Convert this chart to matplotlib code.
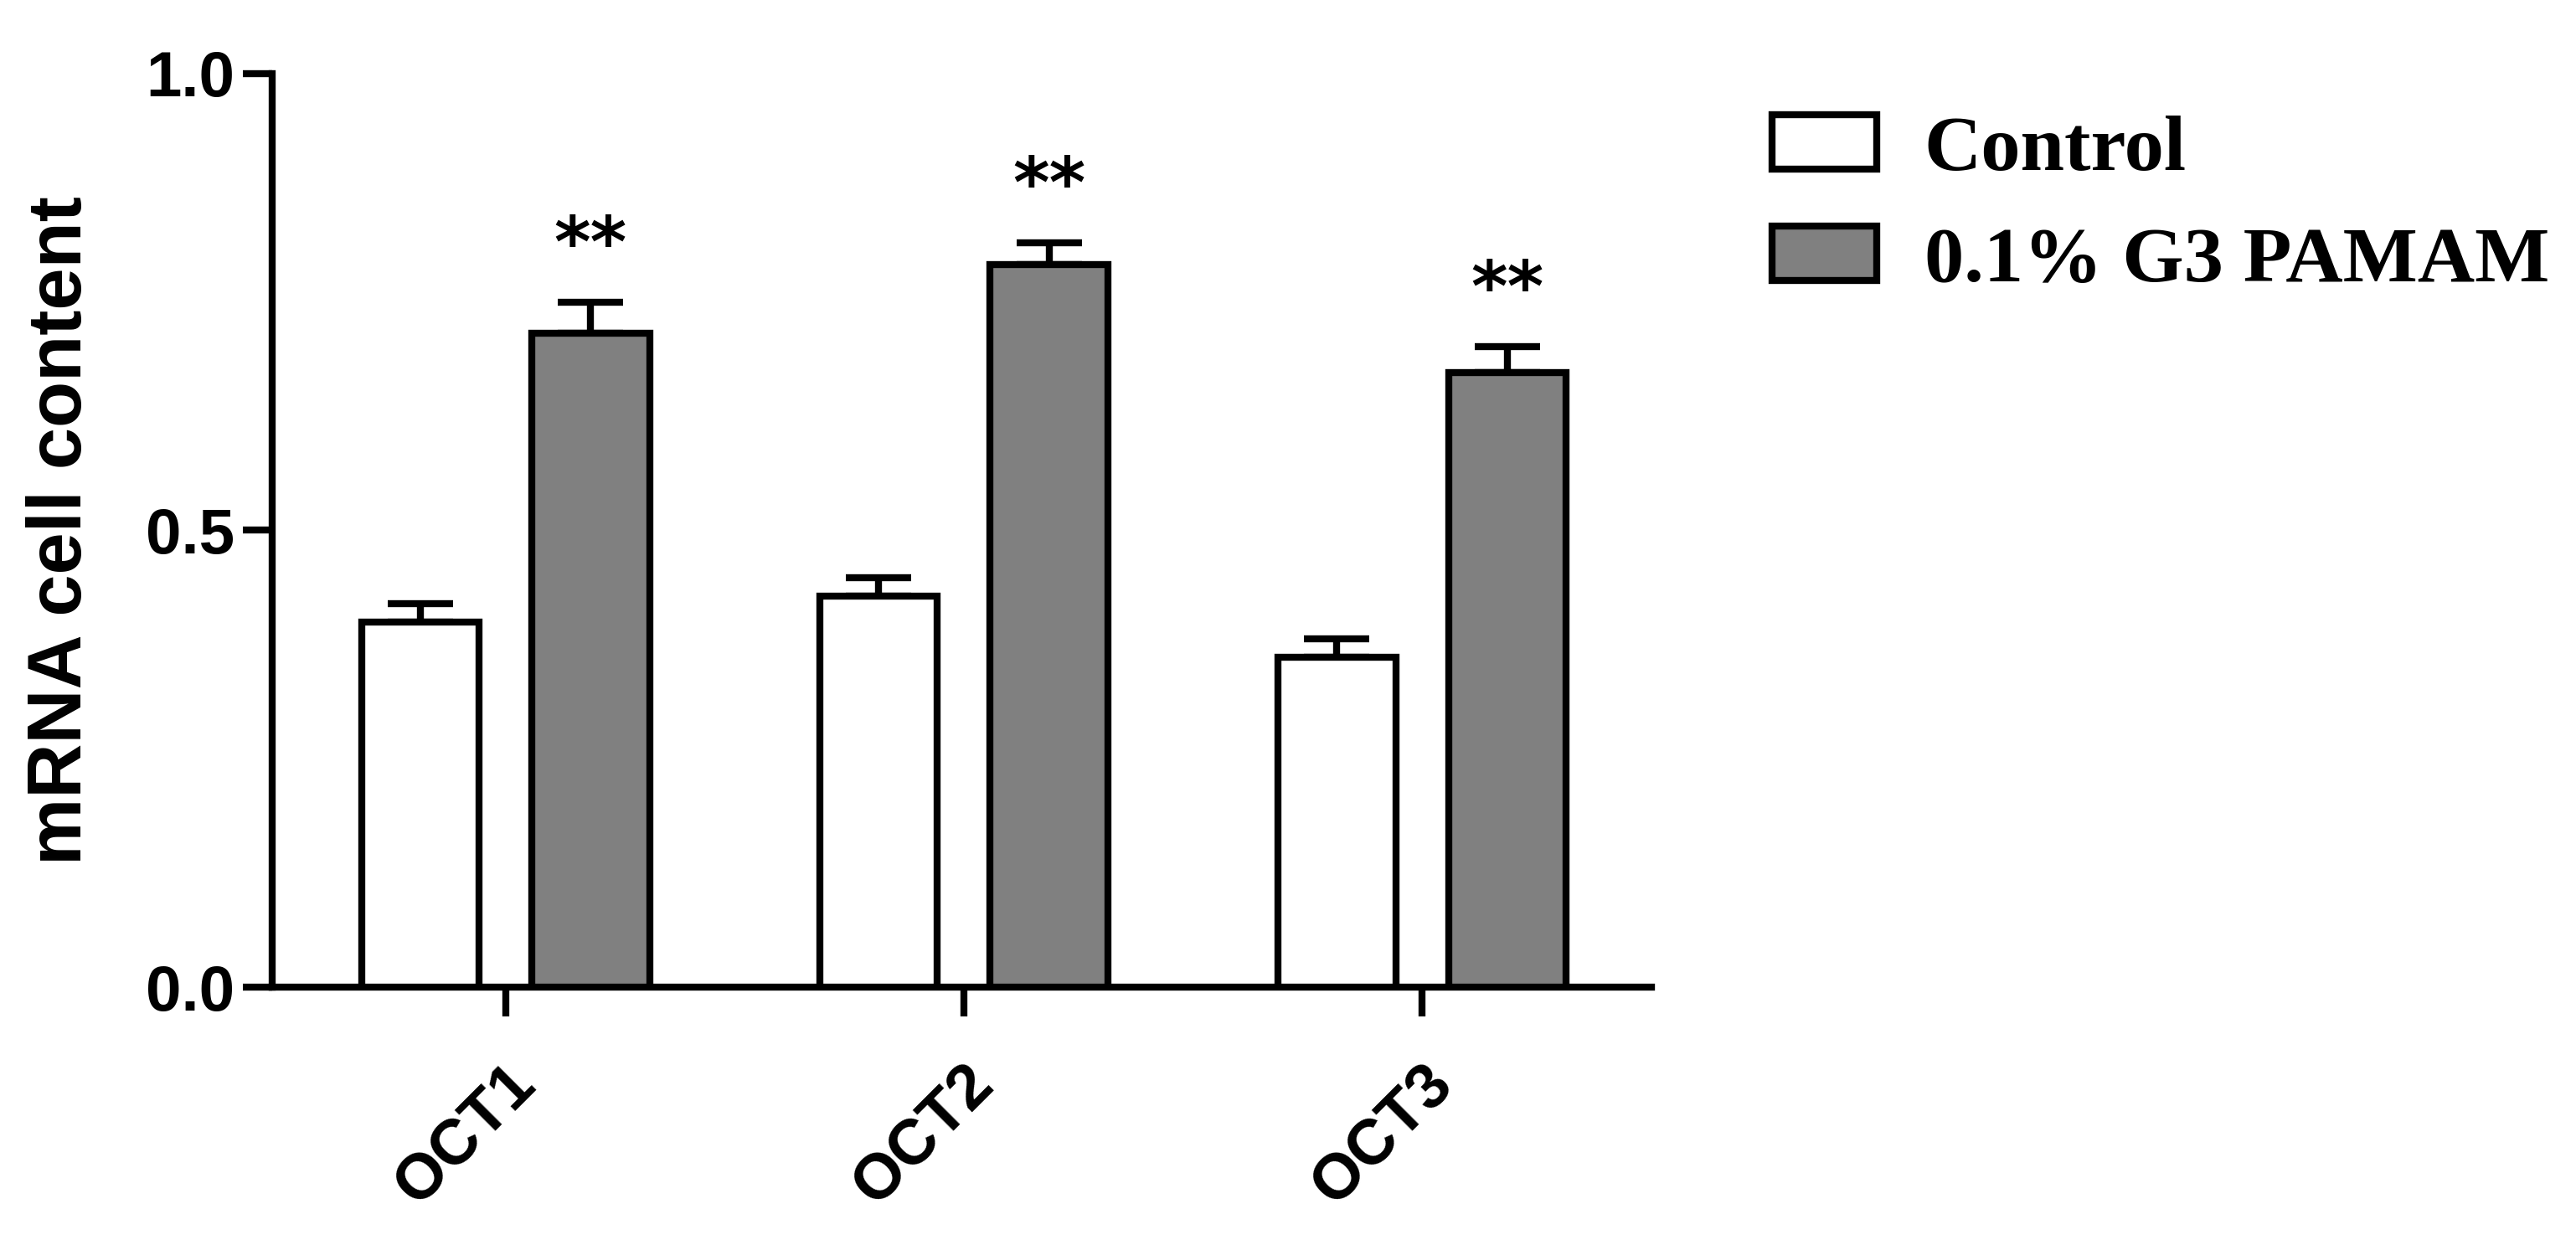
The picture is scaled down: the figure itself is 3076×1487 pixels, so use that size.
import numpy as np
import matplotlib
matplotlib.use("Agg")
import matplotlib.pyplot as plt
import matplotlib.transforms as mtransforms

genes = ["OCT1", "OCT2", "OCT3"]
control = [0.40, 0.428, 0.361]
control_err = [0.02, 0.02, 0.02]
pamam = [0.716, 0.791, 0.673]
pamam_err = [0.034, 0.024, 0.028]
marks = ["**", "**", "**"]
labels = ["Control", "0.1% G3 PAMAM"]

plt.rcParams['font.family'] = ['Liberation Sans', 'DejaVu Sans']

fig = plt.figure(figsize=(30.76, 14.87), dpi=100)
ax = fig.add_axes([0.1055, 0.207, 0.5355, 0.734])

x = np.arange(1, len(genes) + 1)
w = 0.257
off = 0.186
lw = 6.0

b1 = ax.bar(x - off, control, w, color="white", edgecolor="black", linewidth=lw,
            label=labels[0], zorder=3)
b2 = ax.bar(x + off, pamam, w, color="#808080", edgecolor="black", linewidth=lw,
            label=labels[1], zorder=3)
ax.errorbar(x - off, control, yerr=[np.zeros(3), control_err], fmt="none",
            ecolor="black", elinewidth=lw, capsize=28, capthick=lw, zorder=2)
ax.errorbar(x + off, pamam, yerr=[np.zeros(3), pamam_err], fmt="none",
            ecolor="black", elinewidth=lw, capsize=28, capthick=lw, zorder=2)

# significance marks above the treated bars
for xi, v, e, m in zip(x + off, pamam, pamam_err, marks):
    ax.text(xi, v + e + 0.061, m, ha="center", va="center", fontsize=60,
            fontweight="bold", family="DejaVu Sans")

ax.set_xlim(0.49, 3.5)
ax.set_ylim(0, 1.0)
ax.set_yticks([0.0, 0.5, 1.0])
ax.set_yticklabels(["0.0", "0.5", "1.0"], fontsize=55, fontweight="bold")
ax.set_xticks(x)
ax.set_xticklabels(genes, fontsize=55, fontweight="bold", rotation=45,
                   ha="right", va="top", rotation_mode="anchor")
shift = mtransforms.ScaledTranslation(-0.31, 0, fig.dpi_scale_trans)
for lab in ax.get_xticklabels():
    lab.set_transform(lab.get_transform() + shift)
ax.set_ylabel("mRNA cell content", fontsize=65, fontweight="bold", labelpad=42)

ax.spines['top'].set_visible(False)
ax.spines['right'].set_visible(False)
ax.spines['left'].set_linewidth(lw)
ax.spines['bottom'].set_linewidth(lw)
ax.tick_params(axis="both", width=lw, length=25)
ax.tick_params(axis="y", pad=7)
ax.tick_params(axis="x", pad=32)

fig.legend(handles=[b1, b2], labels=labels, loc="upper left",
           bbox_to_anchor=(0.688, 0.908), frameon=False, borderpad=0,
           borderaxespad=0, handlelength=1.32, handleheight=0.69,
           handletextpad=0.6, labelspacing=0.5,
           prop={"family": "Liberation Serif", "weight": "bold", "size": 68})

fig.savefig("out.png", dpi=100, facecolor="white")
